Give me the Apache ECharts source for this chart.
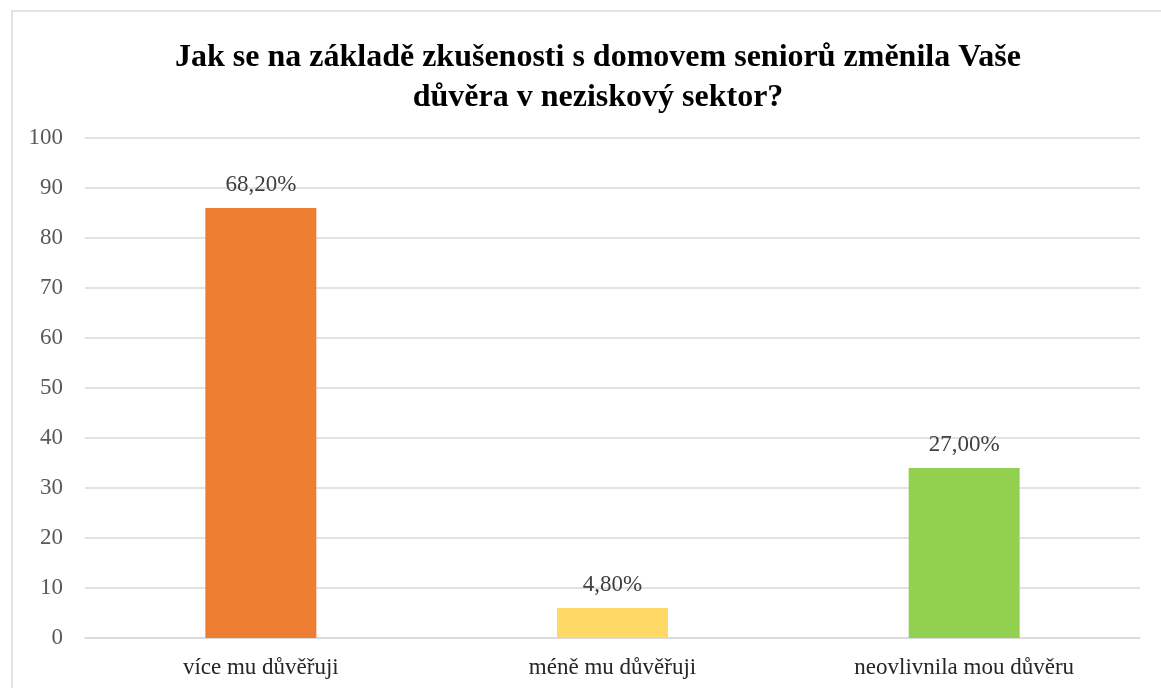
<!DOCTYPE html>
<html>
<head>
<meta charset="utf-8">
<script src="https://cdn.jsdelivr.net/npm/echarts@6/dist/echarts.min.js"></script>
<style>
  html, body { margin: 0; padding: 0; background: #fff; }
  #chart { width: 1161px; height: 688px; }
</style>
</head>
<body>
<div id="chart"></div>
<script>
// data
const categories = ['více mu důvěřuji', 'méně mu důvěřuji', 'neovlivnila mou důvěru'];
const values = [86, 6, 34];
const valueLabels = ['68,20%', '4,80%', '27,00%'];
const barColors = ['#ED7D31', '#FFD966', '#92D050'];
const yTicks = { min: 0, max: 100, interval: 10 };

const chart = echarts.init(document.getElementById('chart'));
const serif = '"Liberation Serif", "Times New Roman", serif';

const option = {
  animation: false,
  // light frame round the chart area
  graphic: [{
    type: 'rect',
    shape: { x: 12, y: 11, width: 1200, height: 720 },
    style: { fill: 'none', stroke: '#d9d9d9', lineWidth: 1.5 },
    silent: true
  }],
  title: {
    text: 'Jak se na základě zkušenosti s domovem seniorů změnila Vaše\ndůvěra v neziskový sektor?',
    left: 593,
    top: 33,
    textAlign: 'center',
    textStyle: {
      fontFamily: serif,
      fontWeight: 'bold',
      fontSize: 32,
      lineHeight: 40,
      color: '#000'
    }
  },
  grid: { left: 85, right: 21, top: 138, bottom: 50, containLabel: false },
  xAxis: {
    type: 'category',
    data: categories,
    axisLine: { show: true, lineStyle: { color: '#d9d9d9', width: 1.5 } },
    axisTick: { show: false },
    axisLabel: {
      fontFamily: serif,
      fontSize: 23,
      color: '#262626',
      margin: 18
    }
  },
  yAxis: {
    type: 'value',
    min: yTicks.min,
    max: yTicks.max,
    interval: yTicks.interval,
    axisLine: { show: false },
    axisTick: { show: false },
    axisLabel: {
      fontFamily: serif,
      fontSize: 23,
      color: '#595959',
      margin: 22
    },
    splitLine: { lineStyle: { color: '#d9d9d9', width: 1.5 } }
  },
  series: [{
    type: 'bar',
    barWidth: 111,
    data: values.map((v, i) => ({ value: v, itemStyle: { color: barColors[i] } })),
    label: {
      show: true,
      position: 'top',
      distance: 12,
      fontFamily: serif,
      fontSize: 23,
      color: '#404040',
      formatter: p => valueLabels[p.dataIndex]
    }
  }]
};

chart.setOption(option);
</script>
</body>
</html>
